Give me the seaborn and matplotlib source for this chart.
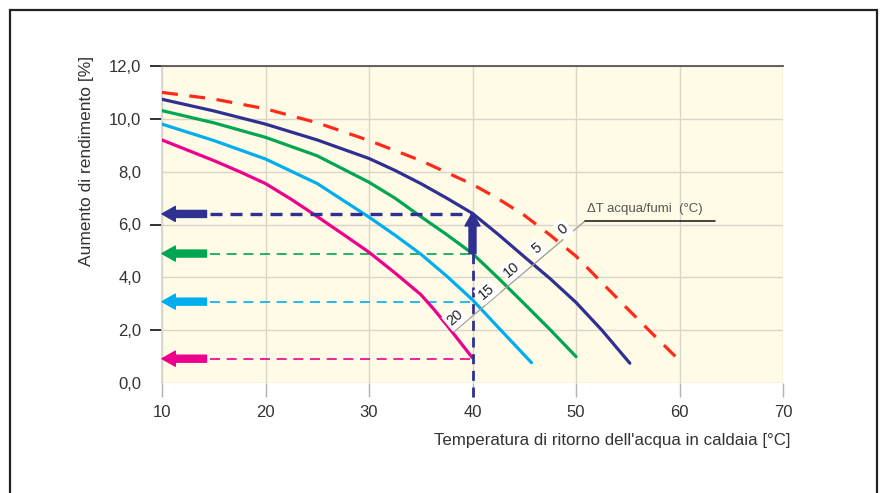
import matplotlib
matplotlib.use('Agg')
import matplotlib.pyplot as plt
import seaborn as sns
import pandas as pd
from matplotlib.patches import Rectangle

# values: return water temperature [°C] -> efficiency gain [%]
dt_labels = ['0', '5', '10', '15', '20']
colors = ['#ff2a1a', '#2e3192', '#00a651', '#00aeef', '#ec008c']

t_dt0 = [10, 15, 20, 25, 30, 35, 40, 42.5, 45, 47.5, 50, 52.5, 55, 57.5, 60]
g_dt0 = [11.0, 10.75, 10.38, 9.85, 9.18, 8.42, 7.52, 6.97, 6.35, 5.6, 4.8, 3.8, 2.8, 1.82, 0.85]
t_dt5 = [10, 15, 20, 25, 30, 32.5, 35, 37.5, 40, 42.5, 45, 47.5, 50, 52.5, 55.2]
g_dt5 = [10.74, 10.3, 9.8, 9.2, 8.5, 8.05, 7.55, 7.0, 6.42, 5.62, 4.78, 3.95, 3.05, 2.0, 0.75]
t_dt10 = [10, 15, 20, 25, 30, 32.5, 35, 37.5, 40, 42.5, 45, 47.5, 50]
g_dt10 = [10.31, 9.85, 9.3, 8.6, 7.6, 7.0, 6.3, 5.62, 4.9, 3.97, 3.0, 2.02, 1.0]
t_dt15 = [10, 15, 20, 25, 30, 32.5, 35, 37.5, 40, 42.5, 45.7]
g_dt15 = [9.8, 9.18, 8.48, 7.55, 6.28, 5.6, 4.88, 4.05, 3.15, 2.1, 0.77]
t_dt20 = [10, 15, 17.5, 20, 22.5, 25, 27.5, 30, 32.5, 35, 36.25, 37.5, 40]
g_dt20 = [9.2, 8.42, 8.0, 7.55, 6.95, 6.3, 5.63, 4.95, 4.17, 3.35, 2.8, 2.2, 0.95]

# read-out at 40 °C (dashed guide lines + arrows), one per curve dT 5..20
readout_t = 40
readout_levels = [6.4, 4.9, 3.08, 0.92]
arrow_tail_t = 14.3

# dT scale along the diagonal
scale_start = (38.2, 1.94)
scale_end = (50.9, 6.14)
scale_line_end = 63.4
scale_labels = ['20', '15', '10', '5', '0']
scale_label_t = [38.31, 41.37, 43.78, 46.2, 48.77]
scale_label_g = [2.46, 3.46, 4.28, 5.10, 5.82]

x_ticks = [10, 20, 30, 40, 50, 60, 70]
y_ticks = [0, 2, 4, 6, 8, 10, 12]
y_ticks_marked = [2, 6, 10, 12]

curves = pd.concat([
    pd.DataFrame({'temp': t, 'gain': g, 'dT': d})
    for t, g, d in zip([t_dt0, t_dt5, t_dt10, t_dt15, t_dt20],
                       [g_dt0, g_dt5, g_dt10, g_dt15, g_dt20], dt_labels)
], ignore_index=True)

sns.set_theme(style='white')
plt.rcParams['font.family'] = ['Liberation Sans', 'DejaVu Sans']

fig = plt.figure(figsize=(8.8, 4.93), dpi=100)
ax = fig.add_axes([162 / 880, 1 - 383 / 493, (783 - 162) / 880, (383 - 66) / 493])
ax.set_facecolor('#fffbe6')

grid_c = '#d9d5c9'
for i, d in enumerate(dt_labels):
    sub = curves[curves['dT'] == d]
    ls = (0, (5, 3.6)) if d == '0' else '-'
    sns.lineplot(data=sub, x='temp', y='gain', ax=ax, color=colors[i], lw=2.3,
                 linestyle=ls, sort=False, estimator=None, legend=False, zorder=4)
for ln in ax.lines:
    ln.set_solid_joinstyle('round')

# guide lines and arrows
arrow_style = 'simple,head_length=0.8,head_width=0.9,tail_width=0.42'
for i, lev in enumerate(readout_levels):
    c = colors[i + 1]
    if i == 0:
        ax.plot([arrow_tail_t + 0.3, readout_t], [lev, lev], color=c, lw=2.4,
                dashes=(3.6, 2.4), zorder=5)
    else:
        ax.plot([arrow_tail_t + 0.3, readout_t], [lev, lev], color=c, lw=1.2,
                dashes=(6, 4), zorder=3)
    ax.annotate('', xy=(10, lev), xytext=(arrow_tail_t, lev),
                arrowprops=dict(arrowstyle=arrow_style, color=c, shrinkA=0, shrinkB=0,
                                mutation_scale=12), zorder=6)

ax.plot([readout_t, readout_t], [-0.53, readout_levels[0]], color=colors[1], lw=2.0,
        dashes=(3.6, 2.4), clip_on=False, zorder=5)
ax.annotate('', xy=(readout_t, readout_levels[0] + 0.05), xytext=(readout_t, readout_levels[1]),
            arrowprops=dict(arrowstyle=arrow_style, color=colors[1], shrinkA=0, shrinkB=0,
                            mutation_scale=12), zorder=6)

# dT scale
ax.plot([scale_start[0], scale_end[0]], [scale_start[1], scale_end[1]], color='#9a9a9a', lw=0.9, zorder=6)
ax.plot([scale_end[0], scale_line_end], [scale_end[1], scale_end[1]], color='#111111', lw=1.1, zorder=6)
ax.text(scale_end[0] + 0.2, scale_end[1] + 0.22, 'ΔT acqua/fumi  (°C)', fontsize=9.5,
        color='#555555', ha='left', va='bottom', zorder=7)
for lab, lt, lg in zip(scale_labels, scale_label_t, scale_label_g):
    ax.text(lt, lg, lab, fontsize=10.5, color='#222222', rotation=40, rotation_mode='anchor',
            ha='center', va='center', zorder=7,
            bbox=dict(boxstyle='square,pad=0.15', fc='white', ec='none'))

ax.set_xlim(10, 70)
ax.set_ylim(0, 12)
ax.set_xticks(x_ticks)
ax.set_yticks(y_ticks)
ax.set_yticklabels([f'{v:.1f}'.replace('.', ',') for v in y_ticks])
ax.set_xticklabels([str(v) for v in x_ticks])
ax.grid(True, color=grid_c, lw=1.0)
ax.set_axisbelow(True)
for s in ['bottom', 'right']:
    ax.spines[s].set_visible(False)
ax.spines['left'].set_color(grid_c)
ax.spines['top'].set_color('#555555')
ax.spines['top'].set_linewidth(1.3)

ax.tick_params(axis='y', direction='out', length=9, width=1.3, color='#222222',
               labelsize=12, labelcolor='#333333', pad=6, left=True)
ax.tick_params(axis='x', direction='out', length=10, width=1.0, color='#b5b2aa',
               labelsize=12, labelcolor='#333333', pad=6, bottom=True)
for tk, v in zip(ax.yaxis.get_major_ticks(), y_ticks):
    if v not in y_ticks_marked:
        tk.tick1line.set_visible(False)
ax.set_xlabel('')
ax.set_ylabel('')

fig.text(790 / 880, 1 - 440 / 493, "Temperatura di ritorno dell'acqua in caldaia [°C]",
         ha='right', va='center', fontsize=12.2, color='#333333')
fig.text(86 / 880, 1 - 161 / 493, 'Aumento di rendimento [%]', rotation=90,
         ha='center', va='center', fontsize=12.5, color='#333333')

fig.patches.append(Rectangle((10 / 880, -0.1), (877 - 10) / 880, 1 - 10 / 493 + 0.1,
                             transform=fig.transFigure, fill=False, lw=1.6, ec='#222222'))

fig.savefig('out.png', dpi=100, facecolor='white')
